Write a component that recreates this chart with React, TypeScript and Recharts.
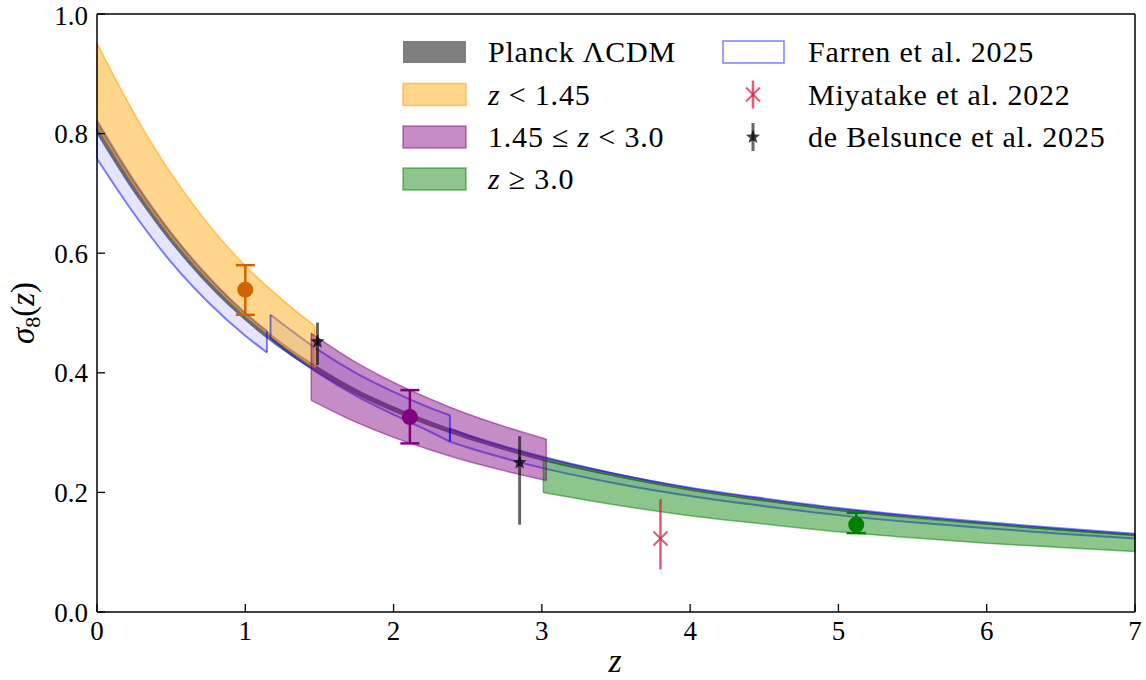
import React from "react";
import { ComposedChart, Area, Scatter, ErrorBar, XAxis, YAxis, ReferenceLine } from "recharts";

// Planck LCDM band
const planckZ = [0, 0.25, 0.5, 0.75, 1, 1.25, 1.5, 1.75, 2, 2.25, 2.5, 2.75, 3, 3.5, 4, 4.5, 5, 5.5, 6, 6.5, 7];
const planckLo = [0.799, 0.701, 0.617, 0.546, 0.487, 0.438, 0.398, 0.363, 0.335, 0.31, 0.289, 0.27, 0.253, 0.226, 0.203, 0.185, 0.169, 0.157, 0.146, 0.136, 0.127];
const planckHi = [0.821, 0.721, 0.634, 0.561, 0.5, 0.45, 0.409, 0.373, 0.344, 0.319, 0.297, 0.277, 0.26, 0.232, 0.208, 0.19, 0.174, 0.161, 0.15, 0.14, 0.131];

// z < 1.45
const lowZ = [0, 0.25, 0.5, 0.75, 1, 1.25, 1.47];
const lowZLo = [0.813, 0.714, 0.628, 0.556, 0.496, 0.447, 0.409];
const lowZHi = [0.951, 0.834, 0.733, 0.649, 0.579, 0.522, 0.478];

// 1.45 <= z < 3.0
const midZ = [1.445, 1.75, 2, 2.25, 2.5, 2.75, 3.03];
const midZLo = [0.354, 0.317, 0.292, 0.271, 0.252, 0.236, 0.22];
const midZHi = [0.466, 0.417, 0.384, 0.356, 0.331, 0.31, 0.289];

// z >= 3.0
const highZ = [3.01, 3.5, 4, 4.5, 5, 5.5, 6, 6.5, 7];
const highZLo = [0.2, 0.179, 0.161, 0.147, 0.134, 0.124, 0.115, 0.108, 0.101];
const highZHi = [0.254, 0.227, 0.204, 0.186, 0.17, 0.157, 0.147, 0.137, 0.128];

// Farren et al. 2025, three redshift bins
const farren1Z = [0, 0.25, 0.5, 0.75, 1, 1.146];
const farren1Lo = [0.758, 0.666, 0.585, 0.518, 0.462, 0.434];
const farren1Hi = [0.822, 0.721, 0.634, 0.561, 0.5, 0.47];
const farren2Z = [1.17, 1.25, 1.5, 1.75, 2, 2.25, 2.38];
const farren2Lo = [0.458, 0.442, 0.398, 0.361, 0.33, 0.301, 0.285];
const farren2Hi = [0.497, 0.482, 0.437, 0.399, 0.368, 0.341, 0.329];
const farren3Z = [2.38, 2.5, 2.75, 3, 3.5, 4, 4.5, 5, 5.5, 6, 6.5, 7];
const farren3Lo = [0.285, 0.275, 0.257, 0.241, 0.215, 0.194, 0.177, 0.162, 0.15, 0.14, 0.131, 0.123];
const farren3Hi = [0.307, 0.296, 0.277, 0.26, 0.231, 0.208, 0.19, 0.174, 0.161, 0.15, 0.14, 0.131];

// measurements: z, sigma8, [minus, plus]
const binZ = [1.0, 2.11, 5.12];
const binS = [0.539, 0.326, 0.146];
const binErr = [[0.042, 0.041], [0.044, 0.045], [0.014, 0.02]];
const binColors = ["#d06400", "#800080", "#008000"];

const miyatakeZ = [3.8];
const miyatakeS = [0.123];
const miyatakeErr = [[0.052, 0.066]];

const belsunceZ = [1.487, 2.85];
const belsunceS = [0.452, 0.25];
const belsunceErr = [[0.039, 0.032], [0.104, 0.044]];

const xTicks = [0, 1, 2, 3, 4, 5, 6, 7];
const yTicks = [0, 0.2, 0.4, 0.6, 0.8, 1.0];

const FONT = "'Liberation Serif', serif";

const band = (z: number[], lo: number[], hi: number[]) =>
  z.map((v, i) => ({ z: v, range: [lo[i], hi[i]] }));
const points = (z: number[], s: number[], err: number[][]) =>
  z.map((v, i) => ({ z: v, s: s[i], err: err[i] }));
const edges = (z: number[], lo: number[], hi: number[]) =>
  [0, z.length - 1].map((i) => [
    { x: z[i], y: lo[i] },
    { x: z[i], y: hi[i] },
  ]);

const starPath = (cx: number, cy: number, R: number, r: number) => {
  let d = "";
  for (let i = 0; i < 10; i++) {
    const a = -Math.PI / 2 + (i * Math.PI) / 5;
    const rad = i % 2 === 0 ? R : r;
    d += (i ? "L" : "M") + (cx + rad * Math.cos(a)).toFixed(2) + "," + (cy + rad * Math.sin(a)).toFixed(2);
  }
  return d + "Z";
};

const bands = [
  { key: "farren1", data: band(farren1Z, farren1Lo, farren1Hi), e: edges(farren1Z, farren1Lo, farren1Hi), fill: "blue", fo: 0.1, stroke: "blue", so: 0.5 },
  { key: "farren2", data: band(farren2Z, farren2Lo, farren2Hi), e: edges(farren2Z, farren2Lo, farren2Hi), fill: "blue", fo: 0.1, stroke: "blue", so: 0.5 },
  { key: "farren3", data: band(farren3Z, farren3Lo, farren3Hi), e: edges(farren3Z, farren3Lo, farren3Hi), fill: "blue", fo: 0.1, stroke: "blue", so: 0.5 },
  { key: "low", data: band(lowZ, lowZLo, lowZHi), e: edges(lowZ, lowZLo, lowZHi), fill: "orange", fo: 0.45, stroke: "orange", so: 0.6 },
  { key: "mid", data: band(midZ, midZLo, midZHi), e: edges(midZ, midZLo, midZHi), fill: "purple", fo: 0.45, stroke: "purple", so: 0.5 },
  { key: "high", data: band(highZ, highZLo, highZHi), e: edges(highZ, highZLo, highZHi), fill: "green", fo: 0.45, stroke: "green", so: 0.5 },
];

function Legend() {
  const rows = [52, 94.5, 137, 179];
  const txt = { fontSize: 30, fill: "#000", fontFamily: FONT, letterSpacing: 0.8 };
  return (
    <svg width={1146} height={680} style={{ position: "absolute", left: 0, top: 0, pointerEvents: "none" }}>
      {/* left column */}
      <rect x={403} y={rows[0] - 11} width={63} height={22} fill="#000" fillOpacity={0.5} />
      <rect x={403} y={rows[1] - 11} width={63} height={22} fill="orange" fillOpacity={0.45} stroke="orange" strokeOpacity={0.6} strokeWidth={1.5} />
      <rect x={403} y={rows[2] - 11} width={63} height={22} fill="purple" fillOpacity={0.45} stroke="purple" strokeOpacity={0.5} strokeWidth={1.5} />
      <rect x={403} y={rows[3] - 11} width={63} height={22} fill="green" fillOpacity={0.45} stroke="green" strokeOpacity={0.5} strokeWidth={1.5} />
      <text x={488} y={rows[0] + 10} {...txt}>Planck ΛCDM</text>
      <text x={488} y={rows[1] + 10} {...txt}><tspan fontStyle="italic">z</tspan> &lt; 1.45</text>
      <text x={488} y={rows[2] + 10} {...txt}>1.45 ≤ <tspan fontStyle="italic">z</tspan> &lt; 3.0</text>
      <text x={488} y={rows[3] + 10} {...txt}><tspan fontStyle="italic">z</tspan> ≥ 3.0</text>
      {/* right column */}
      <rect x={723} y={rows[0] - 11} width={61} height={22} fill="#fff" stroke="blue" strokeOpacity={0.5} strokeWidth={1.5} />
      <line x1={753} x2={753} y1={rows[1] - 14} y2={rows[1] + 14} stroke="crimson" strokeOpacity={0.7} strokeWidth={2.5} />
      <path d={`M746,${rows[1] - 7}L760,${rows[1] + 7}M746,${rows[1] + 7}L760,${rows[1] - 7}`} stroke="crimson" strokeOpacity={0.7} strokeWidth={2} />
      <line x1={753} x2={753} y1={rows[2] - 14} y2={rows[2] + 14} stroke="#000" strokeOpacity={0.6} strokeWidth={3} />
      <path d={starPath(753, rows[2], 7.5, 3.2)} fill="#000" fillOpacity={0.75} />
      <text x={808} y={rows[0] + 10} {...txt}>Farren et al. 2025</text>
      <text x={808} y={rows[1] + 10} {...txt}>Miyatake et al. 2022</text>
      <text x={808} y={rows[2] + 10} {...txt}>de Belsunce et al. 2025</text>
      {/* axis titles */}
      <text x={615} y={672} fontSize={34} fontStyle="italic" textAnchor="middle" fontFamily={FONT}>z</text>
      <text transform="translate(34,313) rotate(-90)" fontSize={33} textAnchor="middle" fontFamily={FONT}>
        <tspan fontStyle="italic">σ</tspan>
        <tspan fontSize={22} dy={6}>8</tspan>
        <tspan dy={-6}>(</tspan>
        <tspan fontStyle="italic">z</tspan>
        <tspan>)</tspan>
      </text>
    </svg>
  );
}

export default function App() {
  return (
    <div style={{ position: "absolute", left: 0, top: 0, width: 1146, height: 680, background: "#fff" }}>
      <ComposedChart width={1146} height={680} margin={{ top: 14, right: 11, bottom: 0, left: 0 }}>
        <XAxis
          type="number"
          dataKey="z"
          domain={[0, 7]}
          ticks={xTicks}
          allowDataOverflow
          height={68}
          tickSize={-8}
          tickMargin={17}
          axisLine={{ stroke: "#000", strokeWidth: 1.5 }}
          tickLine={{ stroke: "#000", strokeWidth: 1.3 }}
          tick={{ fill: "#000", fontSize: 27, fontFamily: FONT }}
        />
        <YAxis
          type="number"
          dataKey="s"
          domain={[0, 1]}
          ticks={yTicks}
          allowDataOverflow
          width={97}
          tickSize={-8}
          tickMargin={17}
          tickFormatter={(v: number) => v.toFixed(1)}
          axisLine={{ stroke: "#000", strokeWidth: 1.5 }}
          tickLine={{ stroke: "#000", strokeWidth: 1.3 }}
          tick={{ fill: "#000", fontSize: 27, fontFamily: FONT }}
        />
        <Area
          data={band(planckZ, planckLo, planckHi)}
          dataKey="range"
          type="monotone"
          stroke="none"
          fill="#000"
          fillOpacity={0.55}
          dot={false}
          activeDot={false}
          isAnimationActive={false}
        />
        {bands.map((b) => (
          <Area
            key={b.key}
            data={b.data}
            dataKey="range"
            type="monotone"
            stroke={b.stroke}
            strokeOpacity={b.so}
            strokeWidth={b.stroke === "blue" ? 2 : 1.5}
            fill={b.fill}
            fillOpacity={b.fo}
            dot={false}
            activeDot={false}
            isAnimationActive={false}
          />
        ))}
        {bands.flatMap((b) =>
          b.e.map((seg, i) => (
            <ReferenceLine key={b.key + i} segment={seg} stroke={b.stroke} strokeOpacity={b.so} strokeWidth={b.stroke === "blue" ? 2 : 1.5} />
          ))
        )}
        <ReferenceLine x={7} stroke="#000" strokeWidth={1.5} />
        <ReferenceLine y={1} stroke="#000" strokeWidth={1.5} />
        {binZ.map((z, i) => (
          <Scatter
            key={"bin" + i}
            data={points([z], [binS[i]], [binErr[i]])}
            dataKey="s"
            isAnimationActive={false}
            shape={(p: any) => <circle cx={p.cx} cy={p.cy} r={8} fill={binColors[i]} />}
          >
            <ErrorBar dataKey="err" direction="y" width={9.5} stroke={binColors[i]} strokeWidth={2.5} />
          </Scatter>
        ))}
        <Scatter
          data={points(miyatakeZ, miyatakeS, miyatakeErr)}
          dataKey="s"
          isAnimationActive={false}
          shape={(p: any) => (
            <path
              d={`M${p.cx - 7},${p.cy - 7}L${p.cx + 7},${p.cy + 7}M${p.cx - 7},${p.cy + 7}L${p.cx + 7},${p.cy - 7}`}
              stroke="crimson"
              strokeOpacity={0.7}
              strokeWidth={2}
            />
          )}
        >
          <ErrorBar dataKey="err" direction="y" width={0} stroke="crimson" strokeOpacity={0.7} strokeWidth={2.5} />
        </Scatter>
        <Scatter
          data={points(belsunceZ, belsunceS, belsunceErr)}
          dataKey="s"
          isAnimationActive={false}
          shape={(p: any) => <path d={starPath(p.cx, p.cy, 7.5, 3.2)} fill="#000" fillOpacity={0.75} />}
        >
          <ErrorBar dataKey="err" direction="y" width={0} stroke="#000" strokeOpacity={0.6} strokeWidth={3} />
        </Scatter>
      </ComposedChart>
      <Legend />
    </div>
  );
}
